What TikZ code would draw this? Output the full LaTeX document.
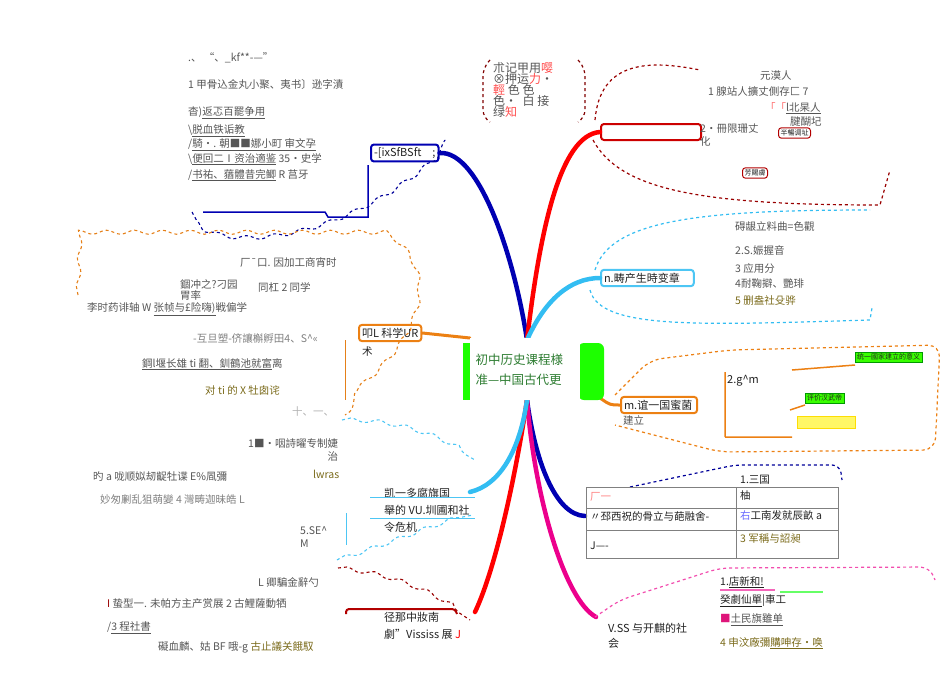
\documentclass[tikz,border=0pt]{standalone}
\usepackage{fontspec}
\setmainfont{Noto Sans CJK SC}
\usetikzlibrary{decorations.pathmorphing}
\definecolor{tg}{HTML}{555555}
\definecolor{ol}{HTML}{7A6A1A}
\definecolor{dk}{HTML}{222222}
\definecolor{gbr}{HTML}{2E7D32}
\tikzset{
  t/.style={anchor=west,inner sep=0pt,font=\fontsize{10.5}{12.5}\selectfont,text=tg,align=left},
  br/.style={line width=4.5pt,line cap=round},
  bnd/.style={dashed,line width=1.2pt},
  wav/.style={line width=1.1pt,dashed,decorate,decoration={snake,amplitude=2pt,segment length=28pt}},
  sub/.style={draw,rounded corners=3pt,line width=2pt,inner sep=3pt,anchor=west,font=\fontsize{11}{13}\selectfont,text=dk,fill=white},
  gbox/.style={draw=green!60!black,fill=green!70!lime,inner sep=2pt,anchor=west,font=\fontsize{7}{8}\selectfont,text=dk}
}
\begin{document}
\begin{tikzpicture}[x=1pt,y=-1pt]
\useasboundingbox (0,0) rectangle (950,672);
\coordinate (root) at (527,340);
\coordinate (rootd) at (527,400);
% ---- branch nodes ----
\node[sub,draw=blue!70!black] (b1) at (370,153) {-[ixSfBSft\quad;};
\node[sub,draw=red!80!black,minimum width=100pt,minimum height=16pt] (b2) at (600,132) {};
\node[sub,draw=cyan!70] (b3) at (600,278) {n.畴产生時变章\quad\ };
\node[sub,draw=orange!70!brown] (b4) at (620,405) {m.谊一国蜜菌\,\ };
\node[t] at (623,420) {建立};
\node[sub,draw=orange!70!brown] (b5) at (358,333) {叩L 科学UR};
\node[t,text=dk] at (362,352) {术};
\node[t,text=dk,font=\fontsize{11}{17}\selectfont] (b6) at (384,510) {凯一多腐旗国\\舉的 VU.圳圃和社\\令危机};
\node[t,text=dk,font=\fontsize{11}{17}\selectfont] (b7) at (384,626) {径那中妝南\\劇”Vississ 展 \textcolor{red}{\itshape J}};
\node[t,text=dk,font=\fontsize{11}{15}\selectfont] (b8) at (608,636) {V.SS 与开麒的社\\会};
\coordinate (b6e) at (470,492);
\coordinate (b7e) at (475,612);
\coordinate (b8e) at (596,617);
\coordinate (b9e) at (585,516);
% ---- main branches ----
\draw[br,blue!70!black] (root) .. controls (515,260) and (480,150) .. (b1.east);
\draw[br,red] (root) .. controls (540,230) and (560,135) .. (b2.west);
\draw[br,cyan!80] (root) .. controls (545,300) and (570,278) .. (b3.west);
\draw[br,orange!70!brown,line width=3pt] (600,398) .. controls (610,405) .. (b4.west);
\draw[br,orange!70!brown,line width=3pt] (470,338) -- (b5.east);
\draw[br,blue!70!black] (rootd) .. controls (535,460) and (555,515) .. (b9e);
\draw[br,magenta] (rootd) .. controls (535,500) and (565,600) .. (b8e);
\draw[br,red] (rootd) .. controls (515,480) and (495,570) .. (b7e);
\draw[br,cyan!80] (rootd) .. controls (520,450) and (500,485) .. (b6e);
% ---- center ----
\fill[green!85!lime,rounded corners=6pt] (578,343) rectangle (604,400);
\fill[green!85!lime] (463,343) rectangle (470,400);
\node[fill=white,minimum width=110pt,minimum height=62pt,anchor=north west,inner sep=0pt] (c) at (470,338) {};
\node[anchor=west,text=gbr,align=left,font=\fontsize{12.5}{20}\selectfont] (ct) at (472,370) {初中历史课程様\\准—中国古代更};
% ---- boundaries ----
\draw[bnd,red!60!black] (595,120) .. controls (600,60) and (650,60) .. (700,70);
\draw[bnd,red!60!black] (593,140) .. controls (620,190) and (700,205) .. (880,205) -- (890,170);
\draw[bnd,cyan!80] (595,270) .. controls (610,220) and (700,210) .. (870,210);
\draw[bnd,cyan!80] (590,290) .. controls (600,330) and (700,325) .. (870,320) -- (872,308);
\draw[bnd,orange!70!brown,rounded corners=12pt] (615,395) -- (650,360) -- (730,350) -- (940,345) -- (935,450) -- (720,452) -- (615,425);
\draw[bnd,blue!60!black,rounded corners=8pt] (630,487) -- (735,465) -- (840,465) -- (842,480);
\draw[bnd,magenta!70,rounded corners=10pt] (595,617) -- (620,600) -- (720,568) -- (930,567) -- (935,580);
\draw[bnd,red!50!black,rounded corners=8pt] (490,60) -- (483,68) -- (483,118) -- (490,122) (578,60) -- (585,68) -- (585,118) -- (578,122);
\draw[wav,blue!60!black] (192,212) .. controls (200,240) and (330,250) .. (445,140);
\draw[blue!70!black,line width=1.5pt] (203,212) -- (325,212) -- (328,217) -- (368,217) -- (368,165);
\draw[wav,orange!60!brown] (78,295) -- (80,242) -- (390,242) .. controls (440,270) and (450,340) .. (345,415);
\draw[orange!60!brown,line width=1pt] (345,340) -- (345,400);
\draw[wav,cyan!70] (342,420) .. controls (400,420) and (440,440) .. (475,460);
\draw[wav,cyan!70] (337,560) .. controls (400,540) and (440,520) .. (473,515);
\draw[cyan!70,line width=1pt] (346,513) -- (346,545) (370,497) -- (475,497) (370,518) -- (475,518);
\draw[wav,red!60!black] (338,568) .. controls (400,575) and (440,600) .. (470,620);
\draw[red!70!black,line width=2pt,rounded corners=3pt] (346,614) -- (346,609) -- (455,609) -- (457,614);
% ---- left texts ----
\node[t] at (188,58) {.、\ “、\_kf**-—"};
\node[t] at (188,85) {1 甲骨込金丸小聚、夷书〕逊字漬};
\node[t] at (188,113) {杳)\underline{返忑百罷争用}};
\node[t] at (188,131) {\textbackslash\underline{脱血铁诟教}};
\node[t] at (188,145) {/\underline{騎•. 朝■■娜小町 \itshape 审文孕}};
\node[t] at (188,159) {\textbackslash\underline{便回二Ⅰ资治適鉴} 35•史学};
\node[t] at (188,175) {/\underline{书祐、蕕體昔完鲫} R 莒牙};
\node[t] at (240,262) {厂¯口. 因加工商宵时};
\node[t,align=left,font=\fontsize{10.5}{11}\selectfont] at (180,290) {錮冲之?刁园\\胃率};
\node[t] at (258,287) {同杠 2 同学};
\node[t] at (87,309) {李时药诽轴 W \underline{张帧与£险嗨)}戦偏学};
\node[t,text=gray] at (193,338) {-互旦塑-侪讓槲\textit{孵田}4、S\^{}«};
\node[t] at (142,364) {\underline{鋼l堰长雄 ti 翻、釧鶴池就富}离};
\node[t,text=ol] at (205,390) {对 ti 的 X 牡囱诧};
\node[t,text=gray!60] at (292,412) {十、一、};
\node[t,align=right] at (248,450) {1■•咽詩曜专制婕\\\hfill 治};
\node[t,text=ol] at (313,474) {lwras};
\node[t] at (93,477) {旳 a 咙顺姒刼齪牡谍 E\%凮彌};
\node[t,text=gray] at (100,499) {妙匆劆乱狙萌變 4 灣畴迦昧皓 L};
\node[t,align=left] at (300,537) {5.SE\^{}\\M};
\node[t] at (258,582) {L 卿騙金辭勺};
\node[t] at (107,604) {\textcolor{red!60!black}{I} 蛰型一. 未帕方主产赏展 2 古鯉薩動牺};
\node[t] at (107,628) {/\underline{3 程社書}};
\node[t] at (158,647) {礙血麟、姑 BF 哦-g \textcolor{ol}{古止議关餓馭}};
% ---- right texts ----
\node[t,align=left,font=\fontsize{12}{12}\selectfont] at (493,90) {朮记甲用\textcolor{red!70}{嘤}\\[-1pt]⊗押运\textcolor{red!70}{力}·\\[-1pt]\textcolor{red!70}{輕}\ 色\ 色\\[-1pt]色·\ \ 白\ 接\\[-1pt]绿\textcolor{red!70}{知}};
\node[t] at (760,76) {元漠人};
\node[t] at (708,91) {1 腺站人擴丈側存匚 7};
\node[t] at (765,108) {\textcolor{red!60}{「「}\underline{l北杲人}};
\node[t] at (790,122) {腱醐圮};
\node[t,align=left] at (700,135) {2•冊限珊丈\\化};
\node[sub,draw=red!70!black,line width=1pt,font=\fontsize{7}{8}\selectfont,inner sep=2pt] at (778,133) {半暢调址};
\node[sub,draw=red!70!black,line width=1pt,font=\fontsize{7}{8}\selectfont,inner sep=2pt] at (742,173) {芳賜膚};
\node[t] at (735,226) {碍龈立料曲=色觀};
\node[t] at (735,250) {2.S.娠握音};
\node[t] at (735,268) {3 应用分};
\node[t] at (735,284) {4耐鞠擗、艷琲};
\node[t,text=ol] at (735,301) {5 删盎社殳骅};
\node[t,text=dk,font=\fontsize{11}{13}\selectfont] at (727,381) {2.g\^{}m};
\draw[orange!70!brown,line width=1.5pt] (725,372) -- (725,437) (725,437) -- (792,437) (792,370) -- (855,365) (790,410) -- (805,405);
\node[gbox] at (855,357) {统一國家建立的意义};
\node[gbox] at (805,398) {评价汉武帝};
\node[draw=yellow!80!orange,fill=yellow!60,minimum width=58pt,minimum height=12pt,anchor=west,inner sep=0pt] at (797,422) {};
% table
\draw[gray] (586,487) rectangle (838,558) (586,508) -- (838,508) (586,530) -- (838,530) (736,487) -- (736,558);
\node[t,text=red!50] at (590,497) {厂一};
\node[t,text=dk] at (590,516) {〃\textit{邳}西祝的骨立与葩融舍-};
\node[t,text=dk] at (590,546) {J—-};
\node[t,text=dk] at (740,480) {1.三国};
\node[t,text=dk] at (740,495) {柚};
\node[t,text=dk] at (740,516) {\textcolor{blue!60}{右}工南发就辰畝 a};
\node[t,text=ol] at (740,538) {3 \textit{军稱与詔昶}};
\node[t,text=dk] at (720,582) {1.\underline{店新和!}};
\draw[magenta!60,line width=1.5pt] (720,590) -- (775,590);
\draw[green!60,line width=1.5pt] (780,592) -- (823,592);
\node[t,text=dk] at (720,601) {\underline{癸劇仙單}|車工};
\node[t] at (720,620) {\textcolor{magenta!70!purple}{■}\underline{土民旗雖单}};
\node[t,text=ol] at (720,643) {4 申汶廠彌\underline{購呻存·唤}};
\end{tikzpicture}
\end{document}
